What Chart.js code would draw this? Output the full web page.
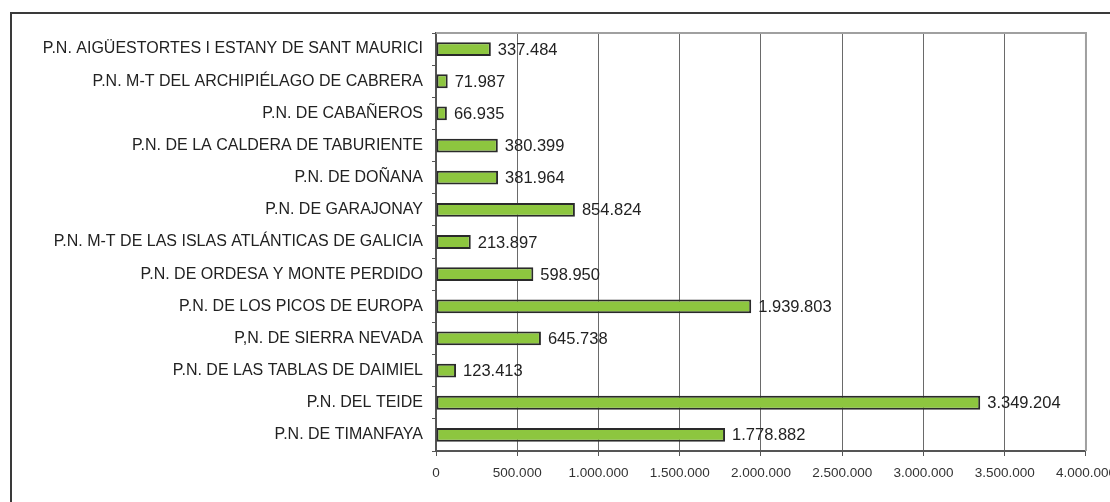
<!DOCTYPE html>
<html>
<head>
<meta charset="utf-8">
<script src="https://cdn.jsdelivr.net/npm/chart.js@4/dist/chart.umd.min.js"></script>
<style>
  html, body { margin: 0; padding: 0; background: #fff; overflow: hidden; width: 1110px; height: 502px; }
  #frame { position: absolute; left: 10px; top: 12px; width: 1200px; height: 600px;
           border-left: 2px solid #3a3a3a; border-top: 2px solid #3a3a3a; box-sizing: border-box; }
  #wrap { position: absolute; left: 0; top: 0; width: 1125px; height: 502px; }
</style>
</head>
<body>
<div id="frame"></div>
<div id="wrap"><canvas id="c"></canvas></div>
<script>
// Visitantes por parque nacional
const parques = [
  'P.N. AIGÜESTORTES I ESTANY DE SANT MAURICI',
  'P.N. M-T DEL ARCHIPIÉLAGO DE CABRERA',
  'P.N. DE CABAÑEROS',
  'P.N. DE LA CALDERA DE TABURIENTE',
  'P.N. DE DOÑANA',
  'P.N. DE GARAJONAY',
  'P.N. M-T DE LAS ISLAS ATLÁNTICAS DE GALICIA',
  'P.N. DE ORDESA Y MONTE PERDIDO',
  'P.N. DE LOS PICOS DE EUROPA',
  'P,N. DE SIERRA NEVADA',
  'P.N. DE LAS TABLAS DE DAIMIEL',
  'P.N. DEL TEIDE',
  'P.N. DE TIMANFAYA'
];
const visitantes = [337484, 71987, 66935, 380399, 381964, 854824, 213897, 598950, 1939803, 645738, 123413, 3349204, 1778882];
const ejeMax = 4000000;
const ejePaso = 500000;

const fuente = '"Liberation Sans", Arial, sans-serif';
const fmt = v => Math.round(v).toString().replace(/\B(?=(\d{3})+(?!\d))/g, '.');

// Etiquetas de valor al final de cada barra
const etiquetas = {
  id: 'etiquetas',
  afterDatasetsDraw(chart) {
    const ctx = chart.ctx;
    const meta = chart.getDatasetMeta(0);
    ctx.save();
    ctx.font = '16.5px ' + fuente;
    ctx.fillStyle = '#222';
    ctx.textAlign = 'left';
    ctx.textBaseline = 'middle';
    meta.data.forEach((bar, i) => {
      ctx.fillText(fmt(visitantes[i]), bar.x + 7, bar.y + 1);
    });
    ctx.restore();
  }
};

// Borde superior y derecho del área de trazado
const bordeArea = {
  id: 'bordeArea',
  beforeDatasetsDraw(chart) {
    const a = chart.chartArea;
    const ctx = chart.ctx;
    ctx.save();
    ctx.strokeStyle = '#a0a0a0';
    ctx.lineWidth = 2;
    ctx.beginPath();
    ctx.moveTo(a.left, a.top);
    ctx.lineTo(a.right, a.top);
    ctx.lineTo(a.right, a.bottom);
    ctx.stroke();
    ctx.restore();
  }
};

new Chart(document.getElementById('c'), {
  type: 'bar',
  data: {
    labels: parques,
    datasets: [{
      data: visitantes,
      backgroundColor: '#8dc63f',
      borderColor: '#2a2a2a',
      borderWidth: 2,
      borderSkipped: false,
      categoryPercentage: 1,
      barPercentage: 0.43
    }]
  },
  options: {
    indexAxis: 'y',
    responsive: true,
    maintainAspectRatio: false,
    animation: false,
    events: [],
    layout: { padding: { top: 33, right: 38, left: 0, bottom: 0 } },
    plugins: { legend: { display: false }, tooltip: { enabled: false }, title: { display: false } },
    scales: {
      x: {
        min: 0,
        max: ejeMax,
        afterFit(s) { s.height = 51; },
        ticks: {
          stepSize: ejePaso,
          padding: 9,
          color: '#333',
          font: { family: fuente, size: 13.5 },
          maxRotation: 0,
          callback: v => fmt(v)
        },
        grid: {
          color: ctx => (ctx.index === 8 ? 'rgba(0,0,0,0)' : '#6a6a6a'),
          lineWidth: 1,
          tickLength: 5,
          tickColor: '#555',
          drawTicks: true
        },
        border: { color: '#555', width: 2 }
      },
      y: {
        afterFit(s) { s.width = 436; },
        ticks: {
          padding: 9,
          color: '#222',
          font: { family: fuente, size: 16 },
          autoSkip: false
        },
        grid: {
          drawOnChartArea: false,
          offset: true,
          tickLength: 4,
          tickColor: '#555',
          lineWidth: 1
        },
        border: { color: '#555', width: 2 }
      }
    }
  },
  plugins: [bordeArea, etiquetas]
});
</script>
</body>
</html>
